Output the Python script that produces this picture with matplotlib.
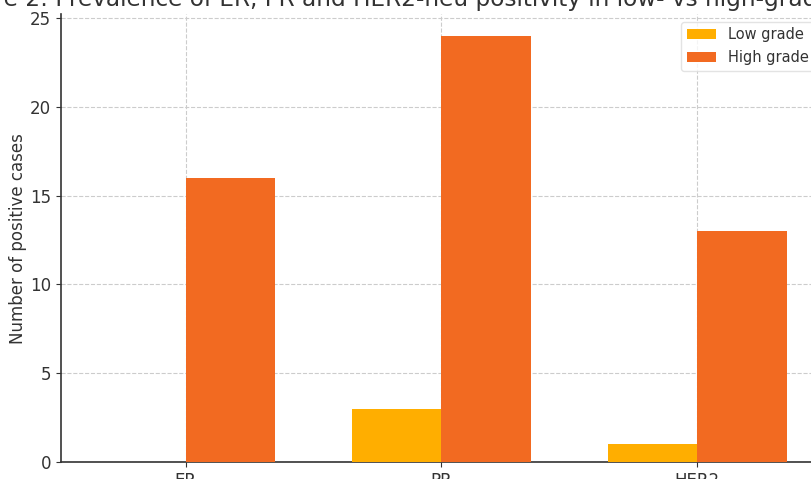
import numpy as np
import matplotlib.pyplot as plt

# Data
markers = ["ER", "PR", "HER2"]
low_grade = [0, 3, 1]
high_grade = [16, 24, 13]
series_labels = ["Low grade", "High grade"]
title = "Figure 2: Prevalence of ER, PR and HER2-neu positivity in low- vs high-grade tumours"

low_color = "#FFAE00"
high_color = "#F26A21"
text_color = "#333333"

fig = plt.figure(figsize=(8.12, 4.79), dpi=100)
ax = fig.add_axes([0.0751, 0.0355, 0.937, 0.9345])

x = np.arange(len(markers))
width = 0.35
ax.bar(x - width / 2, low_grade, width, label=series_labels[0], color=low_color, zorder=3)
ax.bar(x + width / 2, high_grade, width, label=series_labels[1], color=high_color, zorder=3)

ax.set_xticks(x)
ax.set_xticklabels(markers)
ax.set_ylim(0, 25.2)
ax.set_xlim(-0.488, 2.488)
ax.set_ylabel("Number of positive cases", fontsize=12, color=text_color, labelpad=2)
ax.set_title(title, fontsize=16.7, color=text_color)

ax.grid(True, linestyle="--", color="#cccccc", linewidth=0.8, zorder=0)
ax.spines["top"].set_visible(False)
ax.spines["right"].set_visible(False)
for side in ["left", "bottom"]:
    ax.spines[side].set_color(text_color)
    ax.spines[side].set_linewidth(1.2)
ax.tick_params(labelsize=12, colors=text_color)

leg = ax.legend(loc="upper right", fontsize=10.5, framealpha=0.8, edgecolor="#dddddd")
for t in leg.get_texts():
    t.set_color(text_color)

fig.savefig("out.png", dpi=100)
